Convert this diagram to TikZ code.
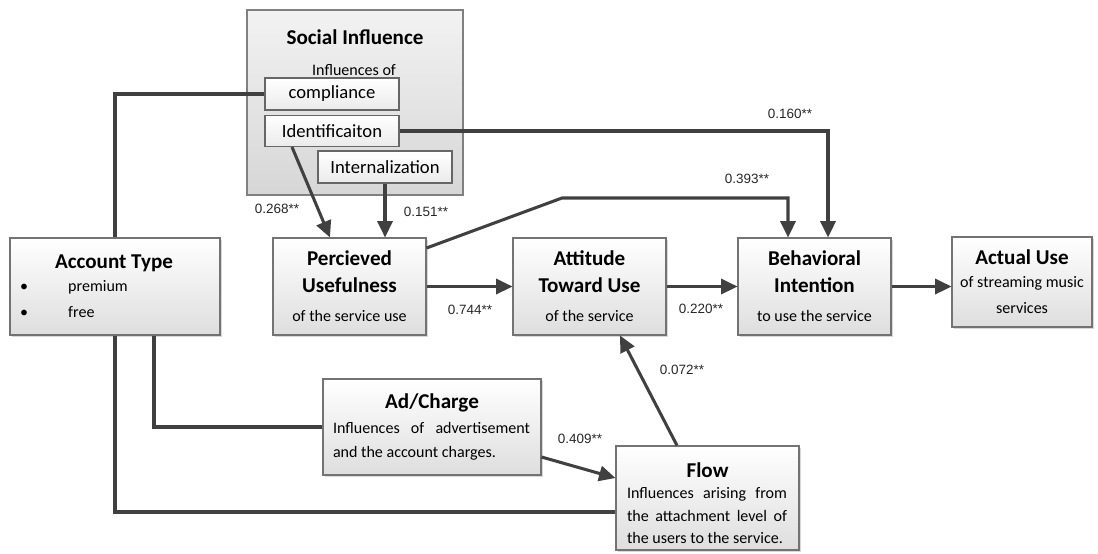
\documentclass[tikz,border=0pt]{standalone}
\usepackage{fontspec}
\setmainfont{Carlito}
\newfontfamily\numfont{Liberation Sans}
\usetikzlibrary{arrows.meta,shadows}
\tolerance=10000
\hbadness=10000
\newcommand{\titlefnt}{\fontsize{18}{22}\selectfont\bfseries}
\newcommand{\subfnt}{\fontsize{13.7}{17}\selectfont}
\newcommand{\itemfnt}{\fontsize{15.9}{19}\selectfont}

\begin{document}
\begin{tikzpicture}[x=0.03cm, y=-0.03cm]
  \tikzstyle{factor} = [rectangle, draw=black!55, line width=0.9pt, top color=white, bottom color=black!13, drop shadow={shadow xshift=2pt, shadow yshift=-2pt, fill=black!30, opacity=0.5}, align=center, font=\fontsize{18}{23}\selectfont, inner sep=0pt]
  \tikzstyle{group} = [rectangle, draw=black!50, line width=0.9pt, top color=black!5, bottom color=black!16]
  \tikzstyle{dim} = [rectangle, draw=black!60, line width=0.9pt, top color=white, bottom color=black!8, minimum width=4.02cm, font=\itemfnt]
  \tikzstyle{body} = [text width=#1, align=justify, inner sep=0pt]
  \tikzstyle{coef} = [font=\numfont\fontsize{11.5}{13}\selectfont, text=black!85, inner sep=0pt]
  \tikzstyle{link} = [line width=2.6pt, draw=black!75]
  \tikzstyle{arrow} = [link, -{Triangle[length=14pt,width=13pt]}]

  \useasboundingbox (0,0) rectangle (1098,553);

  \node (si) [group, minimum width=6.48cm, minimum height=5.55cm] at (355,102.5) {};
  \node (sititle) at (355,37) {\titlefnt Social Influence};
  \node (sisub) at (354,70) {\subfnt Influences of};
  \node (comp) [dim, minimum height=0.96cm] at (332,94) {compliance};
  \node (ident) [dim, minimum height=0.93cm] at (332,131) {Identificaiton};
  \node (intern) [dim, minimum height=0.96cm] at (385,167) {Internalization};

  \node (at) [factor, minimum width=6.3cm, minimum height=2.91cm] at (115,286.5) {};
  \node (attitle) at (114,263) {\titlefnt Account Type};
  \node (atprem) [anchor=west, inner sep=0pt] at (20,287) {\subfnt\makebox[1.44cm][l]{\textbullet}premium};
  \node (atfree) [anchor=west, inner sep=0pt] at (20,312) {\subfnt\makebox[1.44cm][l]{\textbullet}free};

  \node (pu) [factor, minimum width=4.59cm, minimum height=2.91cm] at (349.5,286.5) {\textbf{Percieved}\\\textbf{Usefulness}\\[2pt]\subfnt of the service use};
  \node (atu) [factor, minimum width=4.59cm, minimum height=2.91cm] at (589.5,286.5) {\textbf{Attitude}\\\textbf{Toward Use}\\[2pt]\subfnt of the service};
  \node (bi) [factor, minimum width=4.59cm, minimum height=2.91cm] at (814.5,286.5) {\textbf{Behavioral}\\\textbf{Intention}\\[2pt]\subfnt to use the service};
  \node (au) [factor, minimum width=4.2cm, minimum height=2.7cm] at (1022,282) {\textbf{Actual Use}\\[-3.4pt]\subfnt of streaming music\\[-1pt]\subfnt services};

  \node (ad) [factor, minimum width=6.54cm, minimum height=2.88cm] at (432,427) {};
  \node (adtitle) at (432,403) {\titlefnt Ad/Charge};
  \node (adtext) [body=5.91cm, font=\fontsize{13.7}{20.5}\selectfont] at (431.5,441) {Influences of advertisement and the account charges.};

  \node (flow) [factor, minimum width=5.49cm, minimum height=3.12cm] at (707.5,498) {};
  \node (flowtitle) at (707.5,470) {\titlefnt Flow};
  \node (flowtext) [body=4.8cm, font=\fontsize{13.7}{19.2}\selectfont] at (707,516) {Influences arising from the attachment level of the users to the service.};

  \draw [link] (comp.west) -| (at.north);
  \draw [link] (at.south) |- ([yshift=-0.42cm]flow.west);
  \draw [link] ([xshift=1.17cm]at.south) |- (ad.west);
  \draw [arrow] ([xshift=-1.2cm]ident.south) -- ([xshift=-0.585cm]pu.north);
  \draw [arrow] (intern.south) -- (intern.south |- pu.north);
  \draw [arrow] (ident.east) -| ([xshift=0.405cm]bi.north);
  \coordinate (bend) at (562,198);
  \draw [arrow] ([yshift=1.155cm]pu.east) -- (bend) -| ([xshift=-0.795cm]bi.north);
  \draw [arrow] (pu) -- (atu);
  \draw [arrow] (atu) -- (bi);
  \draw [arrow] (bi.east) -- (bi.east -| au.west);
  \draw [arrow] ([yshift=-0.9cm]ad.east) -- ([yshift=0.6cm]flow.west);
  \draw [arrow] ([xshift=-0.915cm]flow.north) -- ([xshift=0.915cm]atu.south);

  \node (c268) [coef] at (277,209) {0.268**};
  \node (c151) [coef] at (426,212) {0.151**};
  \node (c160) [coef] at (790,114) {0.160**};
  \node (c393) [coef] at (747,179) {0.393**};
  \node (c744) [coef] at (470,310) {0.744**};
  \node (c220) [coef] at (701,309) {0.220**};
  \node (c072) [coef] at (682,370) {0.072**};
  \node (c409) [coef] at (580,439) {0.409**};
\end{tikzpicture}
\end{document}
